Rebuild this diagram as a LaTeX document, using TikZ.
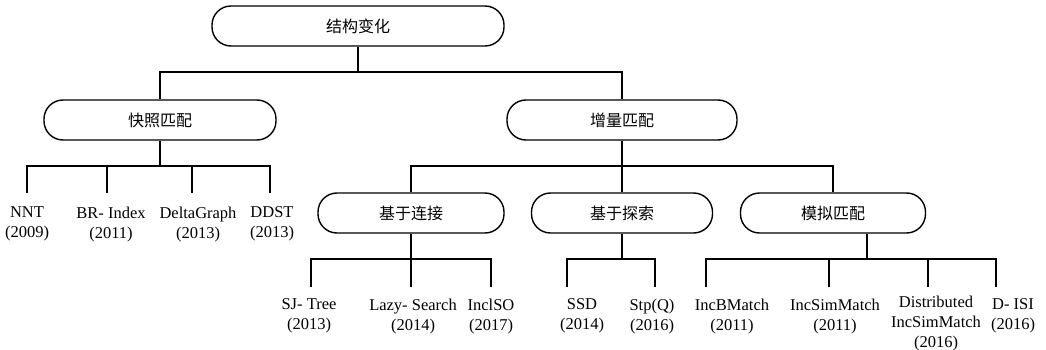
\documentclass[tikz,border=0pt]{standalone}
\usepackage{fontspec}
\setmainfont{Liberation Serif}
\newfontfamily\cjk{Noto Sans CJK SC}
\begin{document}
\begin{tikzpicture}[x=1pt,y=-1pt, line width=1.4pt,
  box/.style={draw, rounded corners=19pt, minimum height=40pt, inner sep=0pt,
    font=\cjk\fontsize{16}{16}\selectfont},
  leaf/.style={align=center, anchor=north, inner xsep=0pt, inner ysep=#1,
    font=\fontsize{16.5}{20}\selectfont},
  leaf/.default=12pt]
\useasboundingbox (0,0) rectangle (1046,350);
% category boxes
\node[box, minimum width=292pt] (root) at (358,26) {结构变化};
\node[box, minimum width=232pt] (snap) at (160,120) {快照匹配};
\node[box, minimum width=230pt] (inc)  at (622,120) {增量匹配};
\node[box, minimum width=186pt] (join) at (411,213) {基于连接};
\node[box, minimum width=181pt] (expl) at (622,213) {基于探索};
\node[box, minimum width=185pt] (sim)  at (833,213) {模拟匹配};
% leaves of snapshot matching
\node[leaf=13pt] (nnt)  at (27,193)  {NNT\\(2009)};
\node[leaf=13pt] (br)   at (111,193) {BR- Index\\(2011)};
\node[leaf=13pt] (dg)   at (198,193) {DeltaGraph\\(2013)};
\node[leaf=13pt] (ddst) at (272,193) {DDST\\(2013)};
% leaves of join based
\node[leaf=11pt] (sj)     at (309,287) {SJ- Tree\\(2013)};
\node[leaf=11pt] (lazy)   at (413,287) {Lazy- Search\\(2014)};
\node[leaf=11pt] (inclso) at (491,287) {InclSO\\(2017)};
% leaves of exploration based
\node[leaf=11pt] (ssd)    at (582,287) {SSD\\(2014)};
\node[leaf=11pt] (stp)    at (652,287) {Stp(Q)\\(2016)};
% leaves of simulation matching
\node[leaf=11pt] (incb)   at (732,287) {IncBMatch\\(2011)};
\node[leaf=11pt] (incsim) at (835,287) {IncSimMatch\\(2011)};
\node[leaf=8pt]  (dist)   at (936,287) {Distributed\\IncSimMatch\\(2016)};
\node[leaf=11pt] (disi)   at (1013,287) {D- ISI\\(2016)};
% junctions
\coordinate (j0) at (358,72);
\coordinate (j1) at (160,166);
\coordinate (j2) at (622,166);
\coordinate (j3) at (411,259);
\coordinate (j4) at (622,259);
\coordinate (j5) at (867,259);
% connectors
\draw (root.south) -- (j0);
\draw (snap.north) |- (j0) -| (inc.north);
\draw (snap.south) -- (j1);
\draw (nnt.north) |- (j1) -| ([xshift=-2pt]ddst.north);
\draw ([xshift=-4pt]br.north) -- ([xshift=-4pt]br.north |- j1);
\draw ([xshift=-6pt]dg.north) -- ([xshift=-6pt]dg.north |- j1);
\draw (inc.south) -- (j2);
\draw (join.north) |- (j2) -| (sim.north);
\draw (expl.north) -- (j2);
\draw (join.south) -- (j3);
\draw ([xshift=2pt]sj.north) |- (j3) -| (inclso.north);
\draw ([xshift=-2pt]lazy.north) -- ([xshift=-2pt]lazy.north |- j3);
\draw (expl.south) -- (j4);
\draw ([xshift=-15pt]ssd.north) |- (j4) -| ([xshift=3pt]stp.north);
\draw ([xshift=34pt]sim.south) -- (j5);
\draw ([xshift=-26pt]incb.north) |- (j5) -| ([xshift=-17pt]disi.north);
\draw ([xshift=-6pt]incsim.north) -- ([xshift=-6pt]incsim.north |- j5);
\draw ([xshift=-8pt]dist.north) -- ([xshift=-8pt]dist.north |- j5);
\end{tikzpicture}
\end{document}
